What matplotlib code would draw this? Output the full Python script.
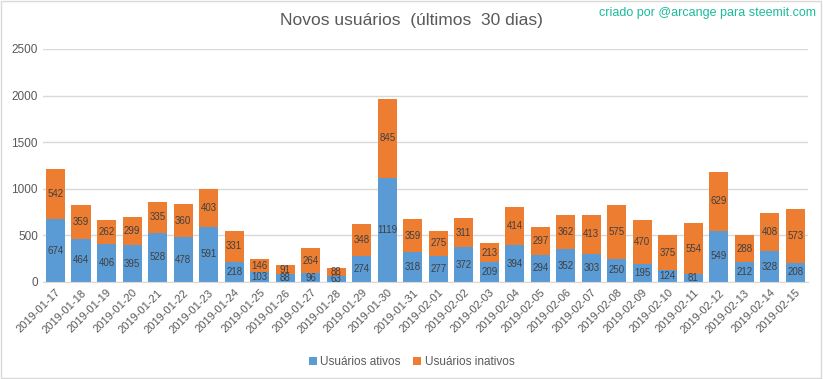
import matplotlib.pyplot as plt
import numpy as np
from matplotlib.patches import Rectangle

plt.rcParams['font.family'] = ['Liberation Sans Narrow', 'Liberation Sans', 'DejaVu Sans']

# dados
datas = ['2019-01-17', '2019-01-18', '2019-01-19', '2019-01-20', '2019-01-21', '2019-01-22',
         '2019-01-23', '2019-01-24', '2019-01-25', '2019-01-26', '2019-01-27', '2019-01-28',
         '2019-01-29', '2019-01-30', '2019-01-31', '2019-02-01', '2019-02-02', '2019-02-03',
         '2019-02-04', '2019-02-05', '2019-02-06', '2019-02-07', '2019-02-08', '2019-02-09',
         '2019-02-10', '2019-02-11', '2019-02-12', '2019-02-13', '2019-02-14', '2019-02-15']
ativos = [674, 464, 406, 395, 528, 478, 591, 218, 103, 88, 96, 63, 274, 1119, 318,
          277, 372, 209, 394, 294, 352, 303, 250, 195, 124, 81, 549, 212, 328, 208]
inativos = [542, 359, 262, 299, 335, 360, 403, 331, 146, 91, 264, 88, 348, 845, 359,
            275, 311, 213, 414, 297, 362, 413, 575, 470, 375, 554, 629, 288, 408, 573]

azul = '#5B9BD5'
laranja = '#ED7D31'
cinza = '#595959'

fig = plt.figure(figsize=(8.23, 3.79), dpi=100)
ax = fig.add_axes([0.052, 0.256, 0.930, 0.615])

x = np.arange(len(datas))
b1 = ax.bar(x, ativos, width=0.75, color=azul, label='Usuários ativos', zorder=2)
b2 = ax.bar(x, inativos, width=0.75, bottom=ativos, color=laranja, label='Usuários inativos', zorder=2)

# rótulos no meio de cada segmento
for i in range(len(datas)):
    ax.text(x[i], ativos[i] / 2, str(ativos[i]), ha='center', va='center', fontsize=7, color='#404040')
    ax.text(x[i], ativos[i] + inativos[i] / 2, str(inativos[i]), ha='center', va='center',
            fontsize=7, color='#404040')

ax.set_xlim(-0.5, len(datas) - 0.5)
ax.set_ylim(0, 2500)
ax.set_yticks(range(0, 2501, 500))
ax.yaxis.grid(True, color='#D9D9D9', linewidth=1, zorder=0)
ax.set_xticks(x)
ax.set_xticklabels(datas, rotation=45, ha='right', rotation_mode='anchor', fontsize=8, color=cinza)
ax.tick_params(axis='y', labelsize=8.5, labelcolor=cinza, length=0)
ax.tick_params(axis='x', length=0, pad=4)
for s in ['top', 'right', 'left']:
    ax.spines[s].set_visible(False)
ax.spines['bottom'].set_color('#D9D9D9')

fig.text(0.5, 0.945, 'Novos usuários  (últimos  30 dias)', ha='center', va='center', fontsize=12.5, color=cinza)
fig.text(0.992, 0.965, 'criado por @arcange para steemit.com', ha='right', va='center', fontsize=9, color='#1ABC9C')

fig.legend(handles=[b1, b2], loc='center', bbox_to_anchor=(0.5, 0.045), ncol=2, frameon=False,
           fontsize=8.5, handlelength=0.7, handleheight=0.7, handletextpad=0.3, columnspacing=1.0,
           labelcolor=cinza)

fig.patches.append(Rectangle((0.001, 0.002), 0.997, 0.995, transform=fig.transFigure, fill=False,
                             edgecolor='#D9D9D9', linewidth=1))

fig.savefig('out.png', dpi=100)
